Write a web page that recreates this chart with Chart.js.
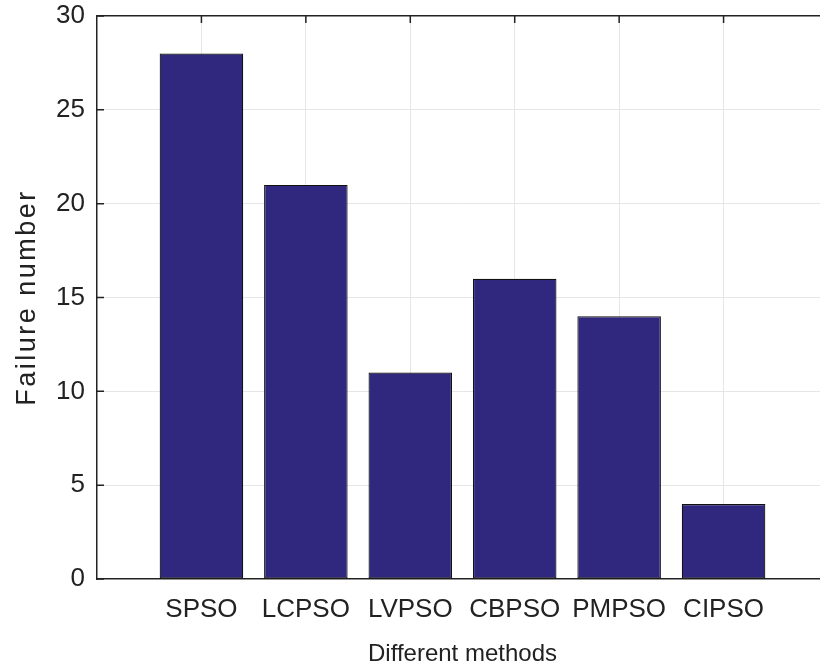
<!DOCTYPE html>
<html>
<head>
<meta charset="utf-8">
<script src="https://cdn.jsdelivr.net/npm/chart.js@4.4.1/dist/chart.umd.min.js"></script>
<style>
  html, body { margin: 0; padding: 0; background: #fff; overflow: hidden; }
  #wrap { width: 830px; height: 669px; }
</style>
</head>
<body>
<div id="wrap"><canvas id="c" width="830" height="669"></canvas></div>
<script>
// Failure counts per optimisation method
const methods = ['SPSO', 'LCPSO', 'LVPSO', 'CBPSO', 'PMPSO', 'CIPSO'];
const failures = [28, 21, 11, 16, 14, 4];
const yTicks = [0, 5, 10, 15, 20, 25, 30];
const yTitle = 'Failure number';

const FONT = '"Liberation Sans", Arial, Helvetica, sans-serif';

// Inward tick marks on the left and top axes, plus the rotated y-axis title
const axisExtras = {
  id: 'axisExtras',
  afterDraw(chart) {
    const { ctx, chartArea: a, scales: { x, y } } = chart;
    ctx.save();
    ctx.strokeStyle = '#222';
    ctx.lineWidth = 1.5;
    ctx.beginPath();
    yTicks.forEach(v => {
      const py = y.getPixelForValue(v);
      ctx.moveTo(a.left, py); ctx.lineTo(a.left + 7, py);
    });
    methods.forEach((m, i) => {
      const px = x.getPixelForValue(i + 1);
      ctx.moveTo(px, a.top); ctx.lineTo(px, a.top + 7);
    });
    ctx.stroke();

    ctx.translate(28, (a.top + a.bottom) / 2);
    ctx.rotate(-Math.PI / 2);
    ctx.font = '27px ' + FONT;
    ctx.letterSpacing = '2.5px';
    ctx.fillStyle = '#222';
    ctx.textAlign = 'center';
    ctx.textBaseline = 'middle';
    ctx.fillText(yTitle, 0, 0);
    ctx.restore();
  }
};

new Chart(document.getElementById('c'), {
  type: 'bar',
  data: {
    datasets: [{
      data: failures.map((v, i) => ({ x: i + 1, y: v })),
      backgroundColor: '#30287f',
      borderColor: '#111',
      borderWidth: 1.2,
      borderSkipped: false,
      barPercentage: 0.8,
      categoryPercentage: 1
    }]
  },
  options: {
    responsive: false,
    animation: false,
    layout: { padding: { top: 16, right: 2, left: 0, bottom: 0 } },
    plugins: { legend: { display: false }, tooltip: { enabled: false } },
    scales: {
      x: {
        type: 'linear',
        offset: false,
        min: 0, max: 7,
        afterBuildTicks: s => { s.ticks = [0, 1, 2, 3, 4, 5, 6, 7].map(v => ({ value: v })); },
        afterFit: s => { s.height = 90; s.paddingLeft = 0; s.paddingRight = 0; },
        grid: {
          offset: false,
          color: c => (c.tick && (c.tick.value === 0 || c.tick.value === 7)) ? 'rgba(0,0,0,0)' : '#e6e6e6',
          lineWidth: 1,
          tickLength: 0
        },
        border: { color: '#222', width: 1.5 },
        ticks: {
          font: { family: FONT, size: 26 },
          color: '#222',
          padding: 15,
          maxRotation: 0,
          autoSkip: false,
          callback: v => methods[v - 1] || ''
        },
        title: {
          display: true,
          text: 'Different methods',
          font: { family: FONT, size: 24 },
          color: '#222',
          padding: { top: 8, bottom: 0 }
        }
      },
      y: {
        min: 0, max: 30,
        afterBuildTicks: s => { s.ticks = yTicks.map(v => ({ value: v })); },
        afterFit: s => { s.width = 97; s.paddingTop = 0; s.paddingBottom = 0; },
        grid: {
          color: c => (c.tick && c.tick.value === 30) ? '#222' : (c.tick && c.tick.value === 0 ? 'rgba(0,0,0,0)' : '#e6e6e6'),
          lineWidth: c => (c.tick && c.tick.value === 30) ? 1.5 : 1,
          tickLength: 0
        },
        border: { color: '#222', width: 1.5 },
        ticks: {
          font: { family: FONT, size: 26 },
          color: '#222',
          padding: 12
        }
      }
    }
  },
  plugins: [axisExtras]
});
</script>
</body>
</html>
